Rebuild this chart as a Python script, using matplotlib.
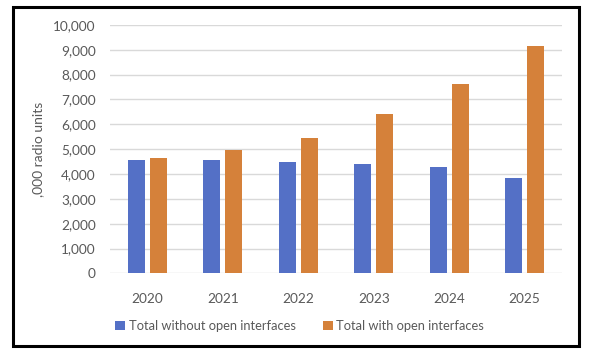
import numpy as np
import matplotlib.pyplot as plt
from matplotlib.patches import Rectangle
from matplotlib.ticker import FuncFormatter

years = ["2020", "2021", "2022", "2023", "2024", "2025"]
without_open = [4560, 4560, 4480, 4400, 4280, 3850]
with_open = [4640, 4970, 5450, 6420, 7620, 9150]

blue = "#5470C6"
orange = "#D5813A"
grey = "#595959"

plt.rcParams['font.family'] = ['Lato', 'DejaVu Sans']

fig = plt.figure(figsize=(5.9, 3.56), dpi=100)
ax = fig.add_axes([0.186, 0.232, 0.767, 0.698])

x = np.arange(len(years))
w = 0.225
ax.bar(x - 0.145, without_open, w, color=blue, label="Total without open interfaces", zorder=3)
ax.bar(x + 0.145, with_open, w, color=orange, label="Total with open interfaces", zorder=3)

ax.set_xlim(-0.5, len(years) - 0.5)
ax.set_ylim(0, 10000)
ax.set_yticks(np.arange(0, 10001, 1000))
ax.yaxis.set_major_formatter(FuncFormatter(lambda v, p: f"{int(v):,}"))
ax.set_xticks(x)
ax.set_xticklabels(years)
ax.grid(axis='y', color="#d9d9d9", linewidth=1, zorder=0)
for s in ax.spines.values():
    s.set_visible(False)
ax.tick_params(length=0, labelsize=9.8, colors=grey, pad=10)
ax.tick_params(axis='x', pad=14)
ax.set_ylabel(",000 radio units", fontsize=10, color=grey, labelpad=8)
ax.yaxis.set_label_coords(-0.145, 0.5)

ax.legend(loc="upper center", bbox_to_anchor=(0.42, -0.14), ncol=2, frameon=False,
          fontsize=9.3, labelcolor=grey, handlelength=0.75, handleheight=0.75,
          handletextpad=0.3, columnspacing=2.1)

fig.add_artist(Rectangle((13 / 590, 1 - 346 / 356), 566 / 590, 339 / 356,
                         transform=fig.transFigure, fill=False, edgecolor="black", linewidth=2.2))

fig.savefig("out.png", dpi=100)
